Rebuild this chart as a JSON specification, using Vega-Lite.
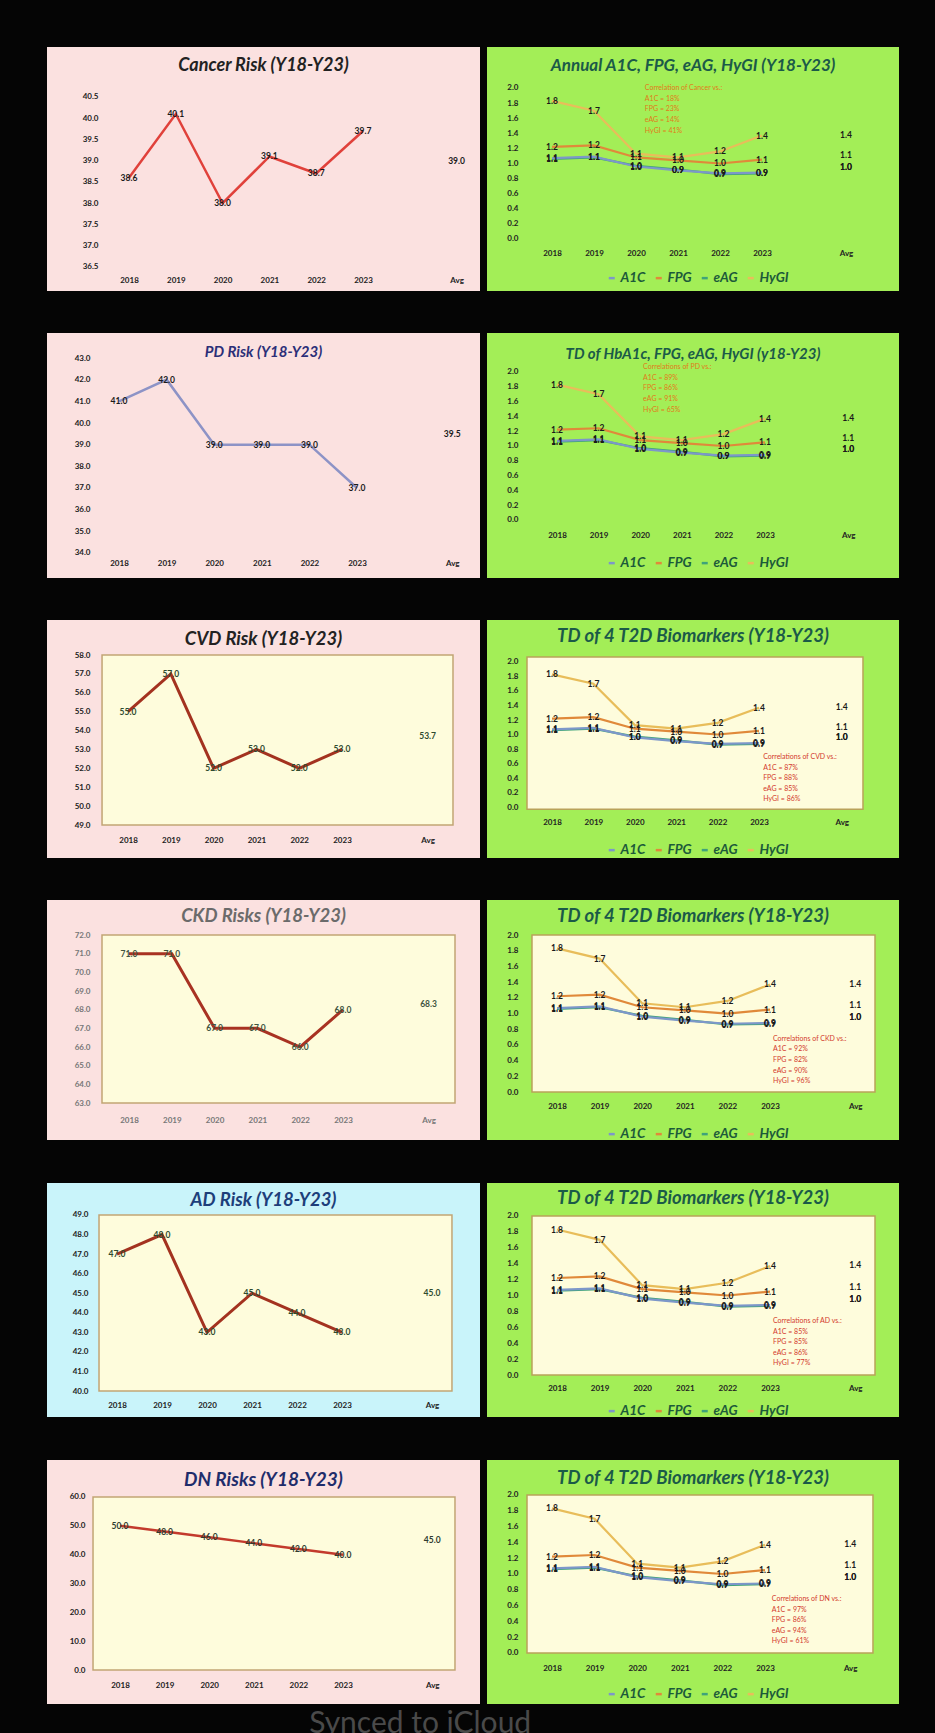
{
"$schema": "https://vega.github.io/schema/vega-lite/v6.json",
"background": "#050505",
"padding": {"left": 47, "top": 47, "right": 36, "bottom": 31},
"config": {
 "view": {"stroke": null},
 "axis": {"ticks": false, "domain": false, "grid": false, "labelFont": "Lato", "labelFontWeight": "bold", "labelFontSize": 8, "labelColor": "#222222", "labelPadding": 0, "labelOverlap": false, "labelFlush": false},
 "title": {"font": "Lato", "fontStyle": "italic", "fontWeight": "bold", "anchor": "middle", "frame": "group", "baseline": "middle"},
 "text": {"font": "Lato", "fontWeight": "bold", "fontSize": 8.5, "color": "#1a1a1a"},
 "legend": {"orient": "none", "direction": "horizontal", "title": null, "symbolType": "stroke", "symbolSize": 36, "symbolStrokeWidth": 2.5, "labelFont": "Lato", "labelFontSize": 13.5, "labelFontStyle": "italic", "labelFontWeight": "bold", "labelColor": "#1c5a3a", "columnPadding": 4, "labelOffset": 2, "legendX": 118}
},
"datasets": {
 "risk": [
  {"chart": "Cancer", "year": 2018, "value": 38.6}, {"chart": "Cancer", "year": 2019, "value": 40.1}, {"chart": "Cancer", "year": 2020, "value": 38.0}, {"chart": "Cancer", "year": 2021, "value": 39.1}, {"chart": "Cancer", "year": 2022, "value": 38.7}, {"chart": "Cancer", "year": 2023, "value": 39.7},
  {"chart": "PD", "year": 2018, "value": 41.0}, {"chart": "PD", "year": 2019, "value": 42.0}, {"chart": "PD", "year": 2020, "value": 39.0}, {"chart": "PD", "year": 2021, "value": 39.0}, {"chart": "PD", "year": 2022, "value": 39.0}, {"chart": "PD", "year": 2023, "value": 37.0},
  {"chart": "CVD", "year": 2018, "value": 55.0}, {"chart": "CVD", "year": 2019, "value": 57.0}, {"chart": "CVD", "year": 2020, "value": 52.0}, {"chart": "CVD", "year": 2021, "value": 53.0}, {"chart": "CVD", "year": 2022, "value": 52.0}, {"chart": "CVD", "year": 2023, "value": 53.0},
  {"chart": "CKD", "year": 2018, "value": 71.0}, {"chart": "CKD", "year": 2019, "value": 71.0}, {"chart": "CKD", "year": 2020, "value": 67.0}, {"chart": "CKD", "year": 2021, "value": 67.0}, {"chart": "CKD", "year": 2022, "value": 66.0}, {"chart": "CKD", "year": 2023, "value": 68.0},
  {"chart": "AD", "year": 2018, "value": 47.0}, {"chart": "AD", "year": 2019, "value": 48.0}, {"chart": "AD", "year": 2020, "value": 43.0}, {"chart": "AD", "year": 2021, "value": 45.0}, {"chart": "AD", "year": 2022, "value": 44.0}, {"chart": "AD", "year": 2023, "value": 43.0},
  {"chart": "DN", "year": 2018, "value": 50.0}, {"chart": "DN", "year": 2019, "value": 48.0}, {"chart": "DN", "year": 2020, "value": 46.0}, {"chart": "DN", "year": 2021, "value": 44.0}, {"chart": "DN", "year": 2022, "value": 42.0}, {"chart": "DN", "year": 2023, "value": 40.0}
 ],
 "riskAvg": [
  {"chart": "Cancer", "avg": 39.0}, {"chart": "PD", "avg": 39.5}, {"chart": "CVD", "avg": 53.7}, {"chart": "CKD", "avg": 68.3}, {"chart": "AD", "avg": 45.0}, {"chart": "DN", "avg": 45.0}
 ],
 "bio": [
  {"series": "eAG", "year": 2018, "value": 1.06}, {"series": "eAG", "year": 2019, "value": 1.08}, {"series": "eAG", "year": 2020, "value": 0.97}, {"series": "eAG", "year": 2021, "value": 0.92}, {"series": "eAG", "year": 2022, "value": 0.86}, {"series": "eAG", "year": 2023, "value": 0.87},
  {"series": "HyGI", "year": 2018, "value": 1.83}, {"series": "HyGI", "year": 2019, "value": 1.70}, {"series": "HyGI", "year": 2020, "value": 1.13}, {"series": "HyGI", "year": 2021, "value": 1.08}, {"series": "HyGI", "year": 2022, "value": 1.16}, {"series": "HyGI", "year": 2023, "value": 1.37},
  {"series": "FPG", "year": 2018, "value": 1.22}, {"series": "FPG", "year": 2019, "value": 1.24}, {"series": "FPG", "year": 2020, "value": 1.08}, {"series": "FPG", "year": 2021, "value": 1.04}, {"series": "FPG", "year": 2022, "value": 1.00}, {"series": "FPG", "year": 2023, "value": 1.05},
  {"series": "A1C", "year": 2018, "value": 1.07}, {"series": "A1C", "year": 2019, "value": 1.09}, {"series": "A1C", "year": 2020, "value": 0.96}, {"series": "A1C", "year": 2021, "value": 0.91}, {"series": "A1C", "year": 2022, "value": 0.87}, {"series": "A1C", "year": 2023, "value": 0.88}
 ],
 "bioAvg": [
  {"series": "A1C", "avg": 0.96}, {"series": "FPG", "avg": 1.11}, {"series": "eAG", "avg": 0.96}, {"series": "HyGI", "avg": 1.38}
 ]
},
"spacing": 42,
"resolve": {"scale": {"x": "independent", "y": "independent", "color": "independent"}, "legend": {"color": "independent"}},
"vconcat": [
 {"hconcat": [
  {"width": 433, "height": 244, "view": {"fill": "#fbe1e0", "stroke": null},
   "title": {"text": "Cancer Risk (Y18-Y23)", "offset": -28, "fontSize": 18, "color": "#222222"},
   "layer": [
    {"data": {"name": "risk"}, "transform": [{"filter": "datum.chart === 'Cancer'"}], "mark": {"type": "line", "color": "#e0413b", "strokeWidth": 2.5},
     "encoding": {"x": {"field": "year", "type": "quantitative", "title": null, "scale": {"domain": [2016.248, 2025.5], "nice": false, "zero": false}, "axis": {"values": [2018, 2019, 2020, 2021, 2022, 2023, 2025], "format": "d", "labelExpr": "datum.value == 2025 ? 'Avg' : datum.label", "offset": -15, "labelOverlap": false, "tickCount": 30}},
      "y": {"field": "value", "type": "quantitative", "title": null, "scale": {"domain": [35.935, 41.676], "nice": false, "zero": false}, "axis": {"values": [36.5, 37, 37.5, 38, 38.5, 39, 39.5, 40, 40.5], "format": ".1f", "offset": -51, "labelOverlap": false, "tickCount": 30}}}},
    {"data": {"name": "risk"}, "transform": [{"filter": "datum.chart === 'Cancer'"}], "mark": {"type": "text"},
     "encoding": {"x": {"field": "year", "type": "quantitative"}, "y": {"field": "value", "type": "quantitative"}, "text": {"field": "value", "format": ".1f"}}},
    {"data": {"name": "riskAvg"}, "transform": [{"filter": "datum.chart === 'Cancer'"}], "mark": {"type": "text"},
     "encoding": {"x": {"datum": 2025}, "y": {"field": "avg", "type": "quantitative"}, "text": {"field": "avg", "format": ".1f"}}}
   ]},
  {"width": 412, "height": 244, "view": {"fill": "#a3ee57", "stroke": null},
   "title": {"text": "Annual A1C, FPG, eAG, HyGI  (Y18-Y23)", "offset": -28, "fontSize": 17, "color": "#1b5a48"},
   "layer": [
    {"data": {"name": "bio"}, "mark": {"type": "line", "strokeWidth": 2.2},
     "encoding": {"x": {"field": "year", "type": "quantitative", "title": null, "scale": {"domain": [2016.452, 2026.262], "nice": false, "zero": false}, "axis": {"values": [2018, 2019, 2020, 2021, 2022, 2023, 2025], "format": "d", "labelExpr": "datum.value == 2025 ? 'Avg' : datum.label", "offset": -42, "labelOverlap": false, "tickCount": 30}},
      "y": {"field": "value", "type": "quantitative", "title": null, "scale": {"domain": [-0.689, 2.543], "nice": false, "zero": false}, "axis": {"values": [0, 0.2, 0.4, 0.6, 0.8, 1, 1.2, 1.4, 1.6, 1.8, 2], "format": ".1f", "offset": -31, "labelOverlap": false, "tickCount": 30}},
      "color": {"field": "series", "type": "nominal", "scale": {"domain": ["A1C", "FPG", "eAG", "HyGI"], "range": ["#7d97c9", "#e0893a", "#3fa37a", "#e8bd5a"]}, "legend": {"legendY": 224}}}},
    {"data": {"name": "bio"}, "mark": {"type": "text"},
     "encoding": {"x": {"field": "year", "type": "quantitative"}, "y": {"field": "value", "type": "quantitative"}, "text": {"field": "value", "format": ".1f"}}},
    {"data": {"name": "bioAvg"}, "mark": {"type": "text"},
     "encoding": {"x": {"datum": 2025}, "y": {"field": "avg", "type": "quantitative"}, "text": {"field": "avg", "format": ".1f"}}},
    {"data": {"values": [{}]}, "mark": {"type": "text", "align": "left", "baseline": "top", "fontSize": 7, "fontWeight": "normal", "color": "#e07b1a", "lineHeight": 10.6},
     "encoding": {"x": {"datum": 2020.21}, "y": {"datum": 2.05}, "text": {"value": ["Correlation of Cancer vs.:", "A1C = 18%", "FPG = 23%", "eAG = 14%", "HyGI = 41%"]}}}
   ]}
 ], "spacing": 7, "bounds": "flush", "resolve": {"scale": {"x": "independent", "y": "independent", "color": "independent"}, "legend": {"color": "independent"}}},
 {"hconcat": [
  {"width": 433, "height": 245, "view": {"fill": "#fbe1e0", "stroke": null},
   "title": {"text": "PD Risk  (Y18-Y23)", "offset": -27, "fontSize": 15, "color": "#2b2f78"},
   "layer": [
    {"data": {"name": "risk"}, "transform": [{"filter": "datum.chart === 'PD'"}], "mark": {"type": "line", "color": "#8d93c6", "strokeWidth": 2.5},
     "encoding": {"x": {"field": "year", "type": "quantitative", "title": null, "scale": {"domain": [2016.487, 2025.584], "nice": false, "zero": false}, "axis": {"values": [2018, 2019, 2020, 2021, 2022, 2023, 2025], "format": "d", "labelExpr": "datum.value == 2025 ? 'Avg' : datum.label", "offset": -19, "labelOverlap": false, "tickCount": 30}},
      "y": {"field": "value", "type": "quantitative", "title": null, "scale": {"domain": [32.846, 44.154], "nice": false, "zero": false}, "axis": {"values": [34, 35, 36, 37, 38, 39, 40, 41, 42, 43], "format": ".1f", "offset": -43, "labelOverlap": false, "tickCount": 30}}}},
    {"data": {"name": "risk"}, "transform": [{"filter": "datum.chart === 'PD'"}], "mark": {"type": "text"},
     "encoding": {"x": {"field": "year", "type": "quantitative"}, "y": {"field": "value", "type": "quantitative"}, "text": {"field": "value", "format": ".1f"}}},
    {"data": {"name": "riskAvg"}, "transform": [{"filter": "datum.chart === 'PD'"}], "mark": {"type": "text"},
     "encoding": {"x": {"datum": 2025}, "y": {"field": "avg", "type": "quantitative"}, "text": {"field": "avg", "format": ".1f"}}}
   ]},
  {"width": 412, "height": 245, "view": {"fill": "#a3ee57", "stroke": null},
   "title": {"text": "TD of HbA1c, FPG, eAG, HyGI  (y18-Y23)", "offset": -29, "fontSize": 15, "color": "#1b5a48"},
   "layer": [
    {"data": {"name": "bio"}, "mark": {"type": "line", "strokeWidth": 2.2},
     "encoding": {"x": {"field": "year", "type": "quantitative", "title": null, "scale": {"domain": [2016.317, 2026.221], "nice": false, "zero": false}, "axis": {"values": [2018, 2019, 2020, 2021, 2022, 2023, 2025], "format": "d", "labelExpr": "datum.value == 2025 ? 'Avg' : datum.label", "offset": -47, "labelOverlap": false, "tickCount": 30}},
      "y": {"field": "value", "type": "quantitative", "title": null, "scale": {"domain": [-0.784, 2.527], "nice": false, "zero": false}, "axis": {"values": [0, 0.2, 0.4, 0.6, 0.8, 1, 1.2, 1.4, 1.6, 1.8, 2], "format": ".1f", "offset": -31, "labelOverlap": false, "tickCount": 30}},
      "color": {"field": "series", "type": "nominal", "scale": {"domain": ["A1C", "FPG", "eAG", "HyGI"], "range": ["#7d97c9", "#e0893a", "#3fa37a", "#e8bd5a"]}, "legend": {"legendY": 223}}}},
    {"data": {"name": "bio"}, "mark": {"type": "text"},
     "encoding": {"x": {"field": "year", "type": "quantitative"}, "y": {"field": "value", "type": "quantitative"}, "text": {"field": "value", "format": ".1f"}}},
    {"data": {"name": "bioAvg"}, "mark": {"type": "text"},
     "encoding": {"x": {"datum": 2025}, "y": {"field": "avg", "type": "quantitative"}, "text": {"field": "avg", "format": ".1f"}}},
    {"data": {"values": [{}]}, "mark": {"type": "text", "align": "left", "baseline": "top", "fontSize": 7, "fontWeight": "normal", "color": "#e07b1a", "lineHeight": 10.6},
     "encoding": {"x": {"datum": 2020.07}, "y": {"datum": 2.12}, "text": {"value": ["Correlations of PD vs.:", "A1C = 89%", "FPG = 86%", "eAG = 91%", "HyGI = 65%"]}}}
   ]}
 ], "spacing": 7, "bounds": "flush", "resolve": {"scale": {"x": "independent", "y": "independent", "color": "independent"}, "legend": {"color": "independent"}}},
 {"hconcat": [
  {"width": 433, "height": 238, "view": {"fill": "#fbe1e0", "stroke": null},
   "title": {"text": "CVD Risk  (Y18-Y23)", "offset": -28, "fontSize": 18.5, "color": "#222222"},
   "layer": [
    {"data": {"values": [{}]}, "mark": {"type": "rect", "fill": "#fefcdc", "stroke": "#c2a574", "strokeWidth": 1.5},
     "encoding": {"x": {"datum": 2017.393}, "x2": {"datum": 2025.593}, "y": {"datum": 49}, "y2": {"datum": 58}}},
    {"data": {"name": "risk"}, "transform": [{"filter": "datum.chart === 'CVD'"}], "mark": {"type": "line", "color": "#a3321f", "strokeWidth": 3},
     "encoding": {"x": {"field": "year", "type": "quantitative", "title": null, "scale": {"domain": [2016.107, 2026.224], "nice": false, "zero": false}, "axis": {"values": [2018, 2019, 2020, 2021, 2022, 2023, 2025], "format": "d", "labelExpr": "datum.value == 2025 ? 'Avg' : datum.label", "offset": -22, "labelOverlap": false, "tickCount": 30}},
      "y": {"field": "value", "type": "quantitative", "title": null, "scale": {"domain": [47.253, 59.853], "nice": false, "zero": false}, "axis": {"values": [49, 50, 51, 52, 53, 54, 55, 56, 57, 58], "format": ".1f", "offset": -43, "labelOverlap": false, "tickCount": 30}}}},
    {"data": {"name": "risk"}, "transform": [{"filter": "datum.chart === 'CVD'"}], "mark": {"type": "text", "color": "#2f4a2f"},
     "encoding": {"x": {"field": "year", "type": "quantitative"}, "y": {"field": "value", "type": "quantitative"}, "text": {"field": "value", "format": ".1f"}}},
    {"data": {"name": "riskAvg"}, "transform": [{"filter": "datum.chart === 'CVD'"}], "mark": {"type": "text", "color": "#2f4a2f"},
     "encoding": {"x": {"datum": 2025}, "y": {"field": "avg", "type": "quantitative"}, "text": {"field": "avg", "format": ".1f"}}}
   ]},
  {"width": 412, "height": 238, "view": {"fill": "#a3ee57", "stroke": null},
   "title": {"text": "TD of 4 T2D Biomarkers  (Y18-Y23)", "offset": -25, "fontSize": 18.5, "color": "#1b5a48"},
   "layer": [
    {"data": {"values": [{}]}, "mark": {"type": "rect", "fill": "#fefcdc", "stroke": "#b9a25a", "strokeWidth": 1.5},
     "encoding": {"x": {"datum": 2017.396}, "x2": {"datum": 2025.512}, "y": {"datum": -0.03}, "y2": {"datum": 2.07}}},
    {"data": {"name": "bio"}, "mark": {"type": "line", "strokeWidth": 2.2},
     "encoding": {"x": {"field": "year", "type": "quantitative", "title": null, "scale": {"domain": [2016.43, 2026.382], "nice": false, "zero": false}, "axis": {"values": [2018, 2019, 2020, 2021, 2022, 2023, 2025], "format": "d", "labelExpr": "datum.value == 2025 ? 'Avg' : datum.label", "offset": -40, "labelOverlap": false, "tickCount": 30}},
      "y": {"field": "value", "type": "quantitative", "title": null, "scale": {"domain": [-0.703, 2.579], "nice": false, "zero": false}, "axis": {"values": [0, 0.2, 0.4, 0.6, 0.8, 1, 1.2, 1.4, 1.6, 1.8, 2], "format": ".1f", "offset": -31, "labelOverlap": false, "tickCount": 30}},
      "color": {"field": "series", "type": "nominal", "scale": {"domain": ["A1C", "FPG", "eAG", "HyGI"], "range": ["#7d97c9", "#e0893a", "#3fa37a", "#e8bd5a"]}, "legend": {"legendY": 223}}}},
    {"data": {"name": "bio"}, "mark": {"type": "text"},
     "encoding": {"x": {"field": "year", "type": "quantitative"}, "y": {"field": "value", "type": "quantitative"}, "text": {"field": "value", "format": ".1f"}}},
    {"data": {"name": "bioAvg"}, "mark": {"type": "text"},
     "encoding": {"x": {"datum": 2025}, "y": {"field": "avg", "type": "quantitative"}, "text": {"field": "avg", "format": ".1f"}}},
    {"data": {"values": [{}]}, "mark": {"type": "text", "align": "left", "baseline": "top", "fontSize": 7, "fontWeight": "normal", "color": "#d33a2c", "lineHeight": 10.6},
     "encoding": {"x": {"datum": 2023.1}, "y": {"datum": 0.745}, "text": {"value": ["Correlations of CVD vs.:", "A1C = 87%", "FPG = 88%", "eAG = 85%", "HyGI = 86%"]}}}
   ]}
 ], "spacing": 7, "bounds": "flush", "resolve": {"scale": {"x": "independent", "y": "independent", "color": "independent"}, "legend": {"color": "independent"}}},
 {"hconcat": [
  {"width": 433, "height": 240, "view": {"fill": "#fbe1e0", "stroke": null},
   "title": {"text": "CKD Risks  (Y18-Y23)", "offset": -25, "fontSize": 18.5, "color": "#6b6b6b"},
   "layer": [
    {"data": {"values": [{}]}, "mark": {"type": "rect", "fill": "#fefcdc", "stroke": "#c2a574", "strokeWidth": 1.5},
     "encoding": {"x": {"datum": 2017.369}, "x2": {"datum": 2025.617}, "y": {"datum": 63}, "y2": {"datum": 72}}},
    {"data": {"name": "risk"}, "transform": [{"filter": "datum.chart === 'CKD'"}], "mark": {"type": "line", "color": "#a83222", "strokeWidth": 3},
     "encoding": {"x": {"field": "year", "type": "quantitative", "title": null, "scale": {"domain": [2016.084, 2026.201], "nice": false, "zero": false}, "axis": {"values": [2018, 2019, 2020, 2021, 2022, 2023, 2025], "format": "d", "labelExpr": "datum.value == 2025 ? 'Avg' : datum.label", "offset": -24, "labelColor": "#777777", "labelOverlap": false, "tickCount": 30}},
      "y": {"field": "value", "type": "quantitative", "title": null, "scale": {"domain": [61.018, 73.875], "nice": false, "zero": false}, "axis": {"values": [63, 64, 65, 66, 67, 68, 69, 70, 71, 72], "format": ".1f", "offset": -43, "labelColor": "#777777", "labelOverlap": false, "tickCount": 30}}}},
    {"data": {"name": "risk"}, "transform": [{"filter": "datum.chart === 'CKD'"}], "mark": {"type": "text", "color": "#3f553f"},
     "encoding": {"x": {"field": "year", "type": "quantitative"}, "y": {"field": "value", "type": "quantitative"}, "text": {"field": "value", "format": ".1f"}}},
    {"data": {"name": "riskAvg"}, "transform": [{"filter": "datum.chart === 'CKD'"}], "mark": {"type": "text", "color": "#3f553f"},
     "encoding": {"x": {"datum": 2025}, "y": {"field": "avg", "type": "quantitative"}, "text": {"field": "avg", "format": ".1f"}}}
   ]},
  {"width": 412, "height": 240, "view": {"fill": "#a3ee57", "stroke": null},
   "title": {"text": "TD of 4 T2D Biomarkers  (Y18-Y23)", "offset": -25, "fontSize": 18.5, "color": "#1b5a48"},
   "layer": [
    {"data": {"values": [{}]}, "mark": {"type": "rect", "fill": "#fefcdc", "stroke": "#b9a25a", "strokeWidth": 1.5},
     "encoding": {"x": {"datum": 2017.413}, "x2": {"datum": 2025.465}, "y": {"datum": 0}, "y2": {"datum": 2.0}}},
    {"data": {"name": "bio"}, "mark": {"type": "line", "strokeWidth": 2.2},
     "encoding": {"x": {"field": "year", "type": "quantitative", "title": null, "scale": {"domain": [2016.357, 2026.028], "nice": false, "zero": false}, "axis": {"values": [2018, 2019, 2020, 2021, 2022, 2023, 2025], "format": "d", "labelExpr": "datum.value == 2025 ? 'Avg' : datum.label", "offset": -38, "labelOverlap": false, "tickCount": 30}},
      "y": {"field": "value", "type": "quantitative", "title": null, "scale": {"domain": [-0.611, 2.446], "nice": false, "zero": false}, "axis": {"values": [0, 0.2, 0.4, 0.6, 0.8, 1, 1.2, 1.4, 1.6, 1.8, 2], "format": ".1f", "offset": -31, "labelOverlap": false, "tickCount": 30}},
      "color": {"field": "series", "type": "nominal", "scale": {"domain": ["A1C", "FPG", "eAG", "HyGI"], "range": ["#7d97c9", "#e0893a", "#3fa37a", "#e8bd5a"]}, "legend": {"legendY": 227}}}},
    {"data": {"name": "bio"}, "mark": {"type": "text"},
     "encoding": {"x": {"field": "year", "type": "quantitative"}, "y": {"field": "value", "type": "quantitative"}, "text": {"field": "value", "format": ".1f"}}},
    {"data": {"name": "bioAvg"}, "mark": {"type": "text"},
     "encoding": {"x": {"datum": 2025}, "y": {"field": "avg", "type": "quantitative"}, "text": {"field": "avg", "format": ".1f"}}},
    {"data": {"values": [{}]}, "mark": {"type": "text", "align": "left", "baseline": "top", "fontSize": 7, "fontWeight": "normal", "color": "#d33a2c", "lineHeight": 10.6},
     "encoding": {"x": {"datum": 2023.07}, "y": {"datum": 0.73}, "text": {"value": ["Correlations of CKD vs.:", "A1C = 92%", "FPG = 82%", "eAG = 90%", "HyGI = 96%"]}}}
   ]}
 ], "spacing": 7, "bounds": "flush", "resolve": {"scale": {"x": "independent", "y": "independent", "color": "independent"}, "legend": {"color": "independent"}}},
 {"hconcat": [
  {"width": 433, "height": 234, "view": {"fill": "#c9f4fa", "stroke": null},
   "title": {"text": "AD Risk  (Y18-Y23)", "offset": -26, "fontSize": 18.5, "color": "#1d3f7a"},
   "layer": [
    {"data": {"values": [{}]}, "mark": {"type": "rect", "fill": "#fefcdc", "stroke": "#c2a574", "strokeWidth": 1.5},
     "encoding": {"x": {"datum": 2017.6}, "x2": {"datum": 2025.444}, "y": {"datum": 40}, "y2": {"datum": 49}}},
    {"data": {"name": "risk"}, "transform": [{"filter": "datum.chart === 'AD'"}], "mark": {"type": "line", "color": "#a3321f", "strokeWidth": 3},
     "encoding": {"x": {"field": "year", "type": "quantitative", "title": null, "scale": {"domain": [2016.444, 2026.067], "nice": false, "zero": false}, "axis": {"values": [2018, 2019, 2020, 2021, 2022, 2023, 2025], "format": "d", "labelExpr": "datum.value == 2025 ? 'Avg' : datum.label", "offset": -16, "labelOverlap": false, "tickCount": 30}},
      "y": {"field": "value", "type": "quantitative", "title": null, "scale": {"domain": [38.671, 50.636], "nice": false, "zero": false}, "axis": {"values": [40, 41, 42, 43, 44, 45, 46, 47, 48, 49], "format": ".1f", "offset": -41, "labelOverlap": false, "tickCount": 30}}}},
    {"data": {"name": "risk"}, "transform": [{"filter": "datum.chart === 'AD'"}], "mark": {"type": "text", "color": "#2f4a2f"},
     "encoding": {"x": {"field": "year", "type": "quantitative"}, "y": {"field": "value", "type": "quantitative"}, "text": {"field": "value", "format": ".1f"}}},
    {"data": {"name": "riskAvg"}, "transform": [{"filter": "datum.chart === 'AD'"}], "mark": {"type": "text", "color": "#2f4a2f"},
     "encoding": {"x": {"datum": 2025}, "y": {"field": "avg", "type": "quantitative"}, "text": {"field": "avg", "format": ".1f"}}}
   ]},
  {"width": 412, "height": 234, "view": {"fill": "#a3ee57", "stroke": null},
   "title": {"text": "TD of 4 T2D Biomarkers  (Y18-Y23)", "offset": -24, "fontSize": 18.5, "color": "#1b5a48"},
   "layer": [
    {"data": {"values": [{}]}, "mark": {"type": "rect", "fill": "#fefcdc", "stroke": "#b9a25a", "strokeWidth": 1.5},
     "encoding": {"x": {"datum": 2017.413}, "x2": {"datum": 2025.465}, "y": {"datum": 0}, "y2": {"datum": 2.0}}},
    {"data": {"name": "bio"}, "mark": {"type": "line", "strokeWidth": 2.2},
     "encoding": {"x": {"field": "year", "type": "quantitative", "title": null, "scale": {"domain": [2016.357, 2026.028], "nice": false, "zero": false}, "axis": {"values": [2018, 2019, 2020, 2021, 2022, 2023, 2025], "format": "d", "labelExpr": "datum.value == 2025 ? 'Avg' : datum.label", "offset": -33, "labelOverlap": false, "tickCount": 30}},
      "y": {"field": "value", "type": "quantitative", "title": null, "scale": {"domain": [-0.528, 2.415], "nice": false, "zero": false}, "axis": {"values": [0, 0.2, 0.4, 0.6, 0.8, 1, 1.2, 1.4, 1.6, 1.8, 2], "format": ".1f", "offset": -31, "labelOverlap": false, "tickCount": 30}},
      "color": {"field": "series", "type": "nominal", "scale": {"domain": ["A1C", "FPG", "eAG", "HyGI"], "range": ["#7d97c9", "#e0893a", "#3fa37a", "#e8bd5a"]}, "legend": {"legendY": 221}}}},
    {"data": {"name": "bio"}, "mark": {"type": "text"},
     "encoding": {"x": {"field": "year", "type": "quantitative"}, "y": {"field": "value", "type": "quantitative"}, "text": {"field": "value", "format": ".1f"}}},
    {"data": {"name": "bioAvg"}, "mark": {"type": "text"},
     "encoding": {"x": {"datum": 2025}, "y": {"field": "avg", "type": "quantitative"}, "text": {"field": "avg", "format": ".1f"}}},
    {"data": {"values": [{}]}, "mark": {"type": "text", "align": "left", "baseline": "top", "fontSize": 7, "fontWeight": "normal", "color": "#d33a2c", "lineHeight": 10.6},
     "encoding": {"x": {"datum": 2023.07}, "y": {"datum": 0.73}, "text": {"value": ["Correlations of AD vs.:", "A1C = 85%", "FPG = 85%", "eAG = 86%", "HyGI = 77%"]}}}
   ]}
 ], "spacing": 7, "bounds": "flush", "resolve": {"scale": {"x": "independent", "y": "independent", "color": "independent"}, "legend": {"color": "independent"}}},
 {"hconcat": [
  {"width": 433, "height": 244, "view": {"fill": "#fbe1e0", "stroke": null},
   "title": {"text": "DN Risks  (Y18-Y23)", "offset": -30, "fontSize": 19, "color": "#1f2d6b"},
   "layer": [
    {"data": {"values": [{}]}, "mark": {"type": "rect", "fill": "#fefcdc", "stroke": "#c2a574", "strokeWidth": 1.5},
     "encoding": {"x": {"datum": 2017.395}, "x2": {"datum": 2025.511}, "y": {"datum": 0}, "y2": {"datum": 60}}},
    {"data": {"name": "risk"}, "transform": [{"filter": "datum.chart === 'DN'"}], "mark": {"type": "line", "color": "#c33a2c", "strokeWidth": 2.5},
     "encoding": {"x": {"field": "year", "type": "quantitative", "title": null, "scale": {"domain": [2016.363, 2026.072], "nice": false, "zero": false}, "axis": {"values": [2018, 2019, 2020, 2021, 2022, 2023, 2025], "format": "d", "labelExpr": "datum.value == 2025 ? 'Avg' : datum.label", "offset": -23, "labelOverlap": false, "tickCount": 30}},
      "y": {"field": "value", "type": "quantitative", "title": null, "scale": {"domain": [-11.79, 72.83], "nice": false, "zero": false}, "axis": {"values": [0, 10, 20, 30, 40, 50, 60], "format": ".1f", "offset": -38, "labelOverlap": false, "tickCount": 30}}}},
    {"data": {"name": "risk"}, "transform": [{"filter": "datum.chart === 'DN'"}], "mark": {"type": "text", "color": "#2f3a2f"},
     "encoding": {"x": {"field": "year", "type": "quantitative"}, "y": {"field": "value", "type": "quantitative"}, "text": {"field": "value", "format": ".1f"}}},
    {"data": {"name": "riskAvg"}, "transform": [{"filter": "datum.chart === 'DN'"}], "mark": {"type": "text", "color": "#2f3a2f"},
     "encoding": {"x": {"datum": 2025}, "y": {"field": "avg", "type": "quantitative"}, "text": {"field": "avg", "format": ".1f"}}},
    {"data": {"values": [{}]}, "mark": {"type": "text", "fontSize": 30, "fontWeight": "normal", "color": "#4a4a4a", "baseline": "middle"},
     "encoding": {"x": {"datum": 2024.73}, "y": {"datum": -18.7}, "text": {"value": "Synced to iCloud"}}}
   ]},
  {"width": 412, "height": 244, "view": {"fill": "#a3ee57", "stroke": null},
   "title": {"text": "TD of 4 T2D Biomarkers  (Y18-Y23)", "offset": -27, "fontSize": 18.5, "color": "#1b5a48"},
   "layer": [
    {"data": {"values": [{}]}, "mark": {"type": "rect", "fill": "#fefcdc", "stroke": "#b9a25a", "strokeWidth": 1.5},
     "encoding": {"x": {"datum": 2017.413}, "x2": {"datum": 2025.535}, "y": {"datum": 0}, "y2": {"datum": 2.0}}},
    {"data": {"name": "bio"}, "mark": {"type": "line", "strokeWidth": 2.2},
     "encoding": {"x": {"field": "year", "type": "quantitative", "title": null, "scale": {"domain": [2016.474, 2026.146], "nice": false, "zero": false}, "axis": {"values": [2018, 2019, 2020, 2021, 2022, 2023, 2025], "format": "d", "labelExpr": "datum.value == 2025 ? 'Avg' : datum.label", "offset": -40, "labelOverlap": false, "tickCount": 30}},
      "y": {"field": "value", "type": "quantitative", "title": null, "scale": {"domain": [-0.646, 2.443], "nice": false, "zero": false}, "axis": {"values": [0, 0.2, 0.4, 0.6, 0.8, 1, 1.2, 1.4, 1.6, 1.8, 2], "format": ".1f", "offset": -31, "labelOverlap": false, "tickCount": 30}},
      "color": {"field": "series", "type": "nominal", "scale": {"domain": ["A1C", "FPG", "eAG", "HyGI"], "range": ["#7d97c9", "#e0893a", "#3fa37a", "#e8bd5a"]}, "legend": {"legendY": 227}}}},
    {"data": {"name": "bio"}, "mark": {"type": "text"},
     "encoding": {"x": {"field": "year", "type": "quantitative"}, "y": {"field": "value", "type": "quantitative"}, "text": {"field": "value", "format": ".1f"}}},
    {"data": {"name": "bioAvg"}, "mark": {"type": "text"},
     "encoding": {"x": {"datum": 2025}, "y": {"field": "avg", "type": "quantitative"}, "text": {"field": "avg", "format": ".1f"}}},
    {"data": {"values": [{}]}, "mark": {"type": "text", "align": "left", "baseline": "top", "fontSize": 7, "fontWeight": "normal", "color": "#d33a2c", "lineHeight": 10.6},
     "encoding": {"x": {"datum": 2023.16}, "y": {"datum": 0.734}, "text": {"value": ["Correlations of DN vs.:", "A1C = 97%", "FPG = 86%", "eAG = 94%", "HyGI = 61%"]}}}
   ]}
 ], "spacing": 7, "bounds": "flush", "resolve": {"scale": {"x": "independent", "y": "independent", "color": "independent"}, "legend": {"color": "independent"}}}
]
}
